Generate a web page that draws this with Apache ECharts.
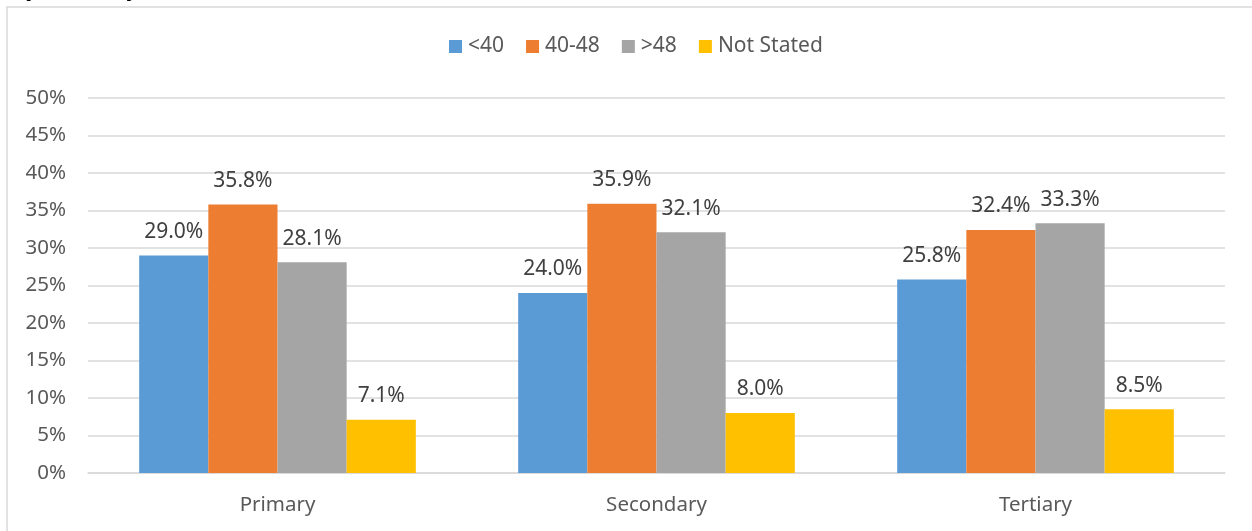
<!DOCTYPE html>
<html>
<head>
<meta charset="utf-8">
<script src="https://cdn.jsdelivr.net/npm/echarts@6/dist/echarts.min.js"></script>
<style>html,body{margin:0;padding:0;background:#fff}#c{width:1252px;height:531px}</style>
</head>
<body>
<div id="c"></div>
<script>
const categories = ['Primary', 'Secondary', 'Tertiary'];
const seriesNames = ['<40', '40-48', '>48', 'Not Stated'];
const under40 = [29.0, 24.0, 25.8];
const from40to48 = [35.8, 35.9, 32.4];
const over48 = [28.1, 32.1, 33.3];
const notStated = [7.1, 8.0, 8.5];
const colors = ['#5B9BD5', '#ED7D31', '#A5A5A5', '#FFC000'];
const seriesValues = [under40, from40to48, over48, notStated];

const font = 'Noto Sans';
const chart = echarts.init(document.getElementById('c'), null, {renderer: 'canvas'});
chart.setOption({
  animation: false,
  color: colors,
  graphic: [
    {type: 'rect', shape: {x: 7, y: 7, width: 1400, height: 700}, style: {fill: 'none', stroke: '#d9d9d9', lineWidth: 1.5}, silent: true, z: -1},
    {type: 'text', left: 15, top: -26, style: {text: 'by Industry', font: 'italic 28px "Liberation Serif"', fill: '#000'}}
  ],
  legend: {
    top: 31,
    left: 444,
    itemWidth: 13,
    itemHeight: 13,
    itemGap: 22,
    icon: 'rect',
    textStyle: {fontFamily: font, fontSize: 21, color: '#595959', padding: [0, 0, 0, 1]},
    data: seriesNames
  },
  grid: {left: 88, right: 27, top: 98, bottom: 58, containLabel: false},
  xAxis: {
    type: 'category',
    data: categories,
    axisLine: {lineStyle: {color: '#d9d9d9', width: 1.5}},
    axisTick: {show: false},
    axisLabel: {fontFamily: font, fontSize: 20.5, color: '#595959', margin: 22}
  },
  yAxis: {
    type: 'value',
    min: 0, max: 50, interval: 5,
    axisLine: {show: false},
    axisTick: {show: false},
    splitLine: {lineStyle: {color: '#d9d9d9', width: 1.5}},
    axisLabel: {fontFamily: font, fontSize: 20.5, color: '#595959', margin: 22, formatter: '{value}%'}
  },
  series: seriesValues.map((vals, i) => ({
    name: seriesNames[i],
    type: 'bar',
    data: vals,
    barGap: '0%',
    barCategoryGap: '27%',
    label: {
      show: true, position: 'top', distance: 13,
      fontFamily: font, fontSize: 21, color: '#404040',
      formatter: p => p.value.toFixed(1) + '%'
    }
  }))
});
</script>
</body>
</html>
